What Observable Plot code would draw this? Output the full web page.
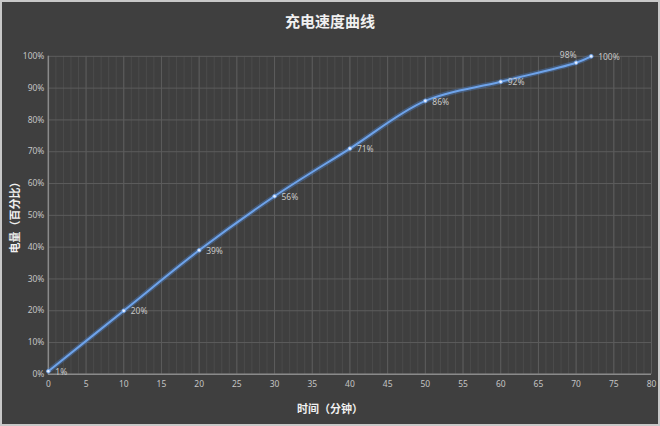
<!DOCTYPE html>
<html><head><meta charset="utf-8">
<script src="https://cdn.jsdelivr.net/npm/d3@7"></script>
<script src="https://cdn.jsdelivr.net/npm/@observablehq/plot@0.6"></script>
<style>
html,body{margin:0;padding:0;background:#d8d8d8;}
#wrap{position:relative;width:660px;height:426px;background:#3f3f3f;box-sizing:border-box;border:2px solid #c8c8c8;overflow:hidden;font-family:"Noto Sans CJK SC","Noto Sans",sans-serif;}
#title{position:absolute;left:0;right:0;top:8px;text-align:center;color:#f0f0f0;font-weight:bold;font-size:15px;}
#ylab{position:absolute;left:-38px;top:205px;width:100px;text-align:center;transform:rotate(-90deg);color:#f0f0f0;font-weight:bold;font-size:11px;}
#xlab{position:absolute;left:0;right:0;top:398px;text-align:center;color:#f0f0f0;font-weight:bold;font-size:11px;}
#chart{position:absolute;left:-2px;top:-2px;}
</style></head>
<body>
<div id="wrap"><div id="chart"></div><div id="title">充电速度曲线</div><div id="ylab">电量（百分比）</div><div id="xlab">时间（分钟）</div></div>
<script>
const minutes = [0, 10, 20, 30, 40, 50, 60, 70, 72];
const charge = [1, 20, 39, 56, 71, 86, 92, 98, 100];
const xTicks = d3.range(0, 81, 5);
const xMinor = d3.range(0, 81, 1);
const yTicks = d3.range(0, 101, 10);
const data = minutes.map((m, i) => ({m, c: charge[i], label: charge[i] + "%"}));

const chart = Plot.plot({
  width: 660, height: 426,
  marginLeft: 48, marginRight: 7, marginTop: 56, marginBottom: 51,
  style: {background: "transparent", color: "#c4c4c4", fontSize: "8.5px", fontFamily: "\"Noto Sans\",sans-serif"},
  x: {domain: [0, 80], ticks: xTicks, tickSize: 0, tickPadding: 7, label: null},
  y: {domain: [0, 100], ticks: yTicks, tickSize: 0, tickPadding: 4, tickFormat: d => d + "%", label: null},
  marks: [
    Plot.ruleX(xMinor, {stroke: "#4b4b4b", strokeWidth: 1}),
    Plot.ruleX(xTicks, {stroke: "#5c5c5c", strokeWidth: 1}),
    Plot.ruleY(yTicks, {stroke: "#5c5c5c", strokeWidth: 1}),
    Plot.ruleX([0], {stroke: "#8a8a8a", strokeWidth: 1.5}),
    Plot.ruleY([0], {stroke: "#8a8a8a", strokeWidth: 1.5}),
    Plot.line(data, {x: "m", y: "c", curve: "catmull-rom", stroke: "#4d86d6", strokeOpacity: 0.35, strokeWidth: 5}),
    Plot.line(data, {x: "m", y: "c", curve: "catmull-rom", stroke: "#6ea3ea", strokeWidth: 2}),
    Plot.dot(data, {x: "m", y: "c", r: 1.8, fill: "#e8f0ff", stroke: "#6ea3ea", strokeWidth: 0.8}),
    Plot.text(data.filter(d => d.c !== 98), {x: "m", y: "c", text: "label", textAnchor: "start", dx: 7, dy: 1, fill: "#c8c8c8", fontSize: 8.5}),
    Plot.text(data.filter(d => d.c === 98), {x: "m", y: "c", text: "label", textAnchor: "middle", dx: -8, dy: -7, fill: "#c8c8c8", fontSize: 8.5}),
    Plot.axisX({ticks: xTicks, tickSize: 0, tickPadding: 7, fill: "#c4c4c4"}),
    Plot.axisY({ticks: yTicks, tickSize: 0, tickPadding: 4, tickFormat: d => d + "%", fill: "#c4c4c4"})
  ]
});
document.getElementById("chart").appendChild(chart);
</script>
</body></html>
